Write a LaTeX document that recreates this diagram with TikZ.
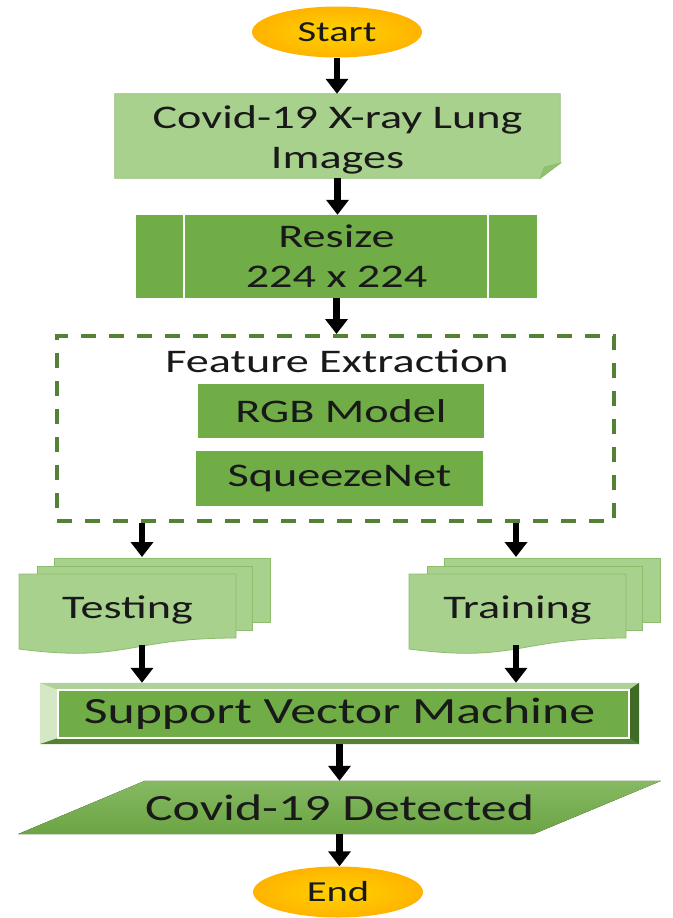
\documentclass[tikz,border=0pt]{standalone}
\usepackage{fontspec}
\setmainfont[FakeStretch=1.4]{Carlito}
\usetikzlibrary{shapes.geometric,arrows.meta,backgrounds}

\definecolor{gold}{HTML}{FFC000}
\definecolor{leaf}{HTML}{A9D18E}
\definecolor{grass}{HTML}{70AD47}
\definecolor{moss}{HTML}{548235}
\definecolor{pine}{HTML}{3F6B27}
\definecolor{mint}{HTML}{D5E8C6}

\newcommand{\txt}{\fontsize{33}{40}\selectfont}
\newcommand{\bigtxt}{\fontsize{37}{44}\selectfont}
\newcommand{\termtxt}{\fontsize{29}{34}\selectfont}

\begin{document}
\begin{tikzpicture}[x=1pt,y=-1pt,
  every node/.style={inner sep=0pt,align=center,font=\txt,text=black!90},
  term/.style={ellipse,shading=radial,inner color=gold!70!yellow,outer color=gold!80!orange,
    minimum width=170pt,minimum height=51pt,font=\termtxt},
  box/.style={rectangle,fill=grass,minimum width=#1,minimum height=54pt},
  box/.default=286pt,
  sheet/.style={fill=leaf,draw=grass!80,line width=0.8pt},
  arr/.style={line width=6.5pt,-{Triangle[width=22pt,length=15pt]}}]

\begin{scope}[on background layer]
\fill[white] (0,0) rectangle (672,918);
\end{scope}
\useasboundingbox (0,0) rectangle (672,918);

% start / end
\node[term] (start) at (337,32) {Start};
\node[term] (end) at (338,892) {End};

% input and preprocessing
\node[minimum width=445pt,minimum height=84pt] (imgs) at (337.5,136) {};
\node (imgstxt) at (337.5,140) {Covid-19 X-ray Lung\\Images};
\node[box=401pt,minimum height=83pt] (resize) at (336.5,256.5) {Resize\\224 x 224};
\draw[white,line width=2.5pt] ([xshift=48pt]resize.north west) -- ([xshift=48pt]resize.south west);
\draw[white,line width=2.5pt] ([xshift=-49pt]resize.north east) -- ([xshift=-49pt]resize.south east);

% feature extraction block
\node[draw=moss,line width=4pt,dash pattern=on 15pt off 13pt,
  minimum width=557pt,minimum height=185pt] (fe) at (335.5,428.5) {};
\node[anchor=base] (fetitle) at (337,372) {Feature Extraction};
\node[box] (rgb) at (341,411) {RGB Model};
\node[box=287pt,minimum height=55pt] (sqz) at (339.5,478.5) {SqueezeNet};

% data splits (stacked documents)
\foreach \n/\x/\t in {test/19/Testing,train/409/Training}{
  \filldraw[sheet] ({\x+35},558) rectangle ({\x+251},622);
  \filldraw[sheet] ({\x+18},566) rectangle ({\x+233},630);
  \filldraw[sheet] ({\x},574) -- ({\x+217},574) -- ({\x+217},638)
    .. controls ({\x+108},638) and ({\x+108},663) .. ({\x},649) -- cycle;
  \node[minimum width=217pt,minimum height=71pt] (\n) at ({\x+108.5},609.5) {\t};
}
\coordinate (test in) at (142,557);
\coordinate (train in) at (516,557);

% classifier and output
\node[minimum width=599pt,minimum height=61pt,font=\bigtxt] (svm) at (339.5,713.5) {Support Vector Machine};
\node[minimum width=643pt,minimum height=53pt,font=\bigtxt] (det) at (339.5,807.5) {Covid-19 Detected};

\begin{scope}[on background layer]
% document with folded corner
\filldraw[sheet] (imgs.north west) -- (imgs.north east) -- ([yshift=15pt]imgs.south east)
  -- ([xshift=-20pt]imgs.south east) -- (imgs.south west) -- cycle;
\filldraw[sheet,fill=leaf!55!grass] ([yshift=15pt]imgs.south east) -- ([xshift=-20pt]imgs.south east)
  -- ([shift={(-16pt,11pt)}]imgs.south east) -- cycle;
% bevelled box
\fill[grass] (svm.north west) rectangle (svm.south east);
\fill[grass!55!white] (svm.north west) -- (svm.north east) -- ([shift={(-10pt,-7pt)}]svm.north east)
  -- ([shift={(18pt,-7pt)}]svm.north west) -- cycle;
\fill[mint] (svm.north west) -- ([shift={(18pt,-7pt)}]svm.north west)
  -- ([shift={(18pt,6pt)}]svm.south west) -- (svm.south west) -- cycle;
\fill[pine] (svm.north east) -- ([shift={(-10pt,-7pt)}]svm.north east)
  -- ([shift={(-10pt,6pt)}]svm.south east) -- (svm.south east) -- cycle;
\fill[moss] (svm.south west) -- ([shift={(18pt,6pt)}]svm.south west)
  -- ([shift={(-10pt,6pt)}]svm.south east) -- (svm.south east) -- cycle;
\filldraw[fill=grass,draw=white,line width=1.5pt] ([shift={(18pt,-7pt)}]svm.north west)
  rectangle ([shift={(-10pt,6pt)}]svm.south east);
% parallelogram
\fill[top color=grass!85!white,bottom color=grass!95!black] ([xshift=127pt]det.north west)
  -- (det.north east) -- ([xshift=-128pt]det.south east) -- (det.south west) -- cycle;
\end{scope}

% arrows
\draw[arr] (start.south) -- (start.south |- imgs.north);
\draw[arr] (imgs.south) -- (imgs.south |- resize.north);
\draw[arr] (resize.south) -- (resize.south |- fe.north);
\draw[arr] (fe.south -| test in) -- (test in);
\draw[arr] (fe.south -| train in) -- (train in);
\draw[arr] (test.south -| test in) -- (svm.north -| test in);
\draw[arr] (train.south -| train in) -- (svm.north -| train in);
\draw[arr] (svm.south -| det.north) -- (det.north);
\draw[arr] (det.south) -- (det.south |- end.north);

\end{tikzpicture}
\end{document}
